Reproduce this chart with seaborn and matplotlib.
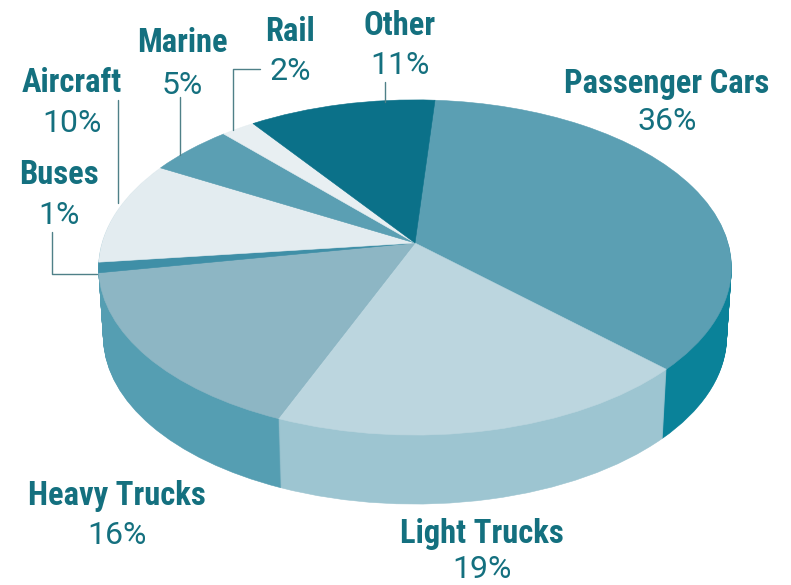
import numpy as np
import seaborn as sns
import matplotlib
matplotlib.use("Agg")
import matplotlib.pyplot as plt
from matplotlib.transforms import Transform

# Share of use by transport mode
categories = ["Passenger Cars", "Light Trucks", "Heavy Trucks", "Buses", "Aircraft", "Marine", "Rail", "Other"]
shares = [36, 19, 16, 1, 10, 5, 2, 11]
top_colors = ["#5b9fb3", "#bcd6df", "#8db6c4", "#3f8fa7", "#e3ecf0", "#5b9fb3", "#e8eff2", "#0b7189"]
side_colors = ["#0a8299", "#9dc5d1", "#559eb2", "#559eb2", "#559eb2", "#559eb2", "#559eb2", "#559eb2"]

INK = "#14707f"
LINE = "#4f8088"
DEPTH = 69


class Tilt(Transform):
    # unit pie -> page pixels, with a little perspective so the near edge is bigger
    input_dims = 2
    output_dims = 2

    def __init__(self, drop=0.0):
        super().__init__()
        self.drop = drop

    def transform_non_affine(self, values):
        u, v = values[:, 0], values[:, 1]
        w = 1 + 0.146 * v
        shrink = 1 - 0.015 * self.drop / DEPTH
        return np.column_stack([415 + 313 * shrink * u / w, 243 - 164 * v / w + self.drop])


sns.set_theme(style="white")
plt.rcParams["font.family"] = ["Roboto", "DejaVu Sans"]

fig, ax = plt.subplots(figsize=(7.91, 5.85), dpi=100)
fig.subplots_adjust(0, 0, 1, 1)


def draw_pie(colors, drop):
    wedges, _ = ax.pie(shares, colors=colors, startangle=85.8, counterclock=False, radius=1,
                       wedgeprops={"linewidth": 0.4})
    for w, c in zip(wedges, colors):
        w.set_edgecolor(c)
        w.set_transform(Tilt(drop) + ax.transData)
    return wedges


# side wall is a stack of pies, top face last
for drop in np.arange(DEPTH, 0, -1.0):
    draw_pie(side_colors, drop)
draw_pie(top_colors, 0)

ax.set_aspect("auto")
ax.set_xlim(0, 791)
ax.set_ylim(585, 0)
ax.axis("off")

# leader lines
ax.plot([385, 385], [82, 102], color=LINE, lw=1)
ax.plot([260, 233, 233], [69, 69, 130], color=LINE, lw=1)
ax.plot([180, 180], [97, 155], color=LINE, lw=1)
ax.plot([118, 118], [100, 203], color=LINE, lw=1)
ax.plot([52, 52, 97], [232, 274, 274], color=LINE, lw=1)

label_pos = {
    "Passenger Cars": (667, 84, 121),
    "Light Trucks": (482, 534, 570),
    "Heavy Trucks": (117, 496, 535),
    "Buses": (59, 175, 216),
    "Aircraft": (72, 83, 123),
    "Marine": (182, 43, 85),
    "Rail": (290, 32, 72),
    "Other": (400, 26, 66),
}
for name, share in zip(categories, shares):
    x, y1, y2 = label_pos[name]
    ax.text(x, y1, name, ha="center", va="center", color=INK, fontsize=23.5, fontweight="bold",
            family=["Roboto Condensed", "DejaVu Sans"])
    ax.text(x, y2, f"{share}%", ha="center", va="center", color=INK, fontsize=23)

fig.savefig("out.png", dpi=100)
